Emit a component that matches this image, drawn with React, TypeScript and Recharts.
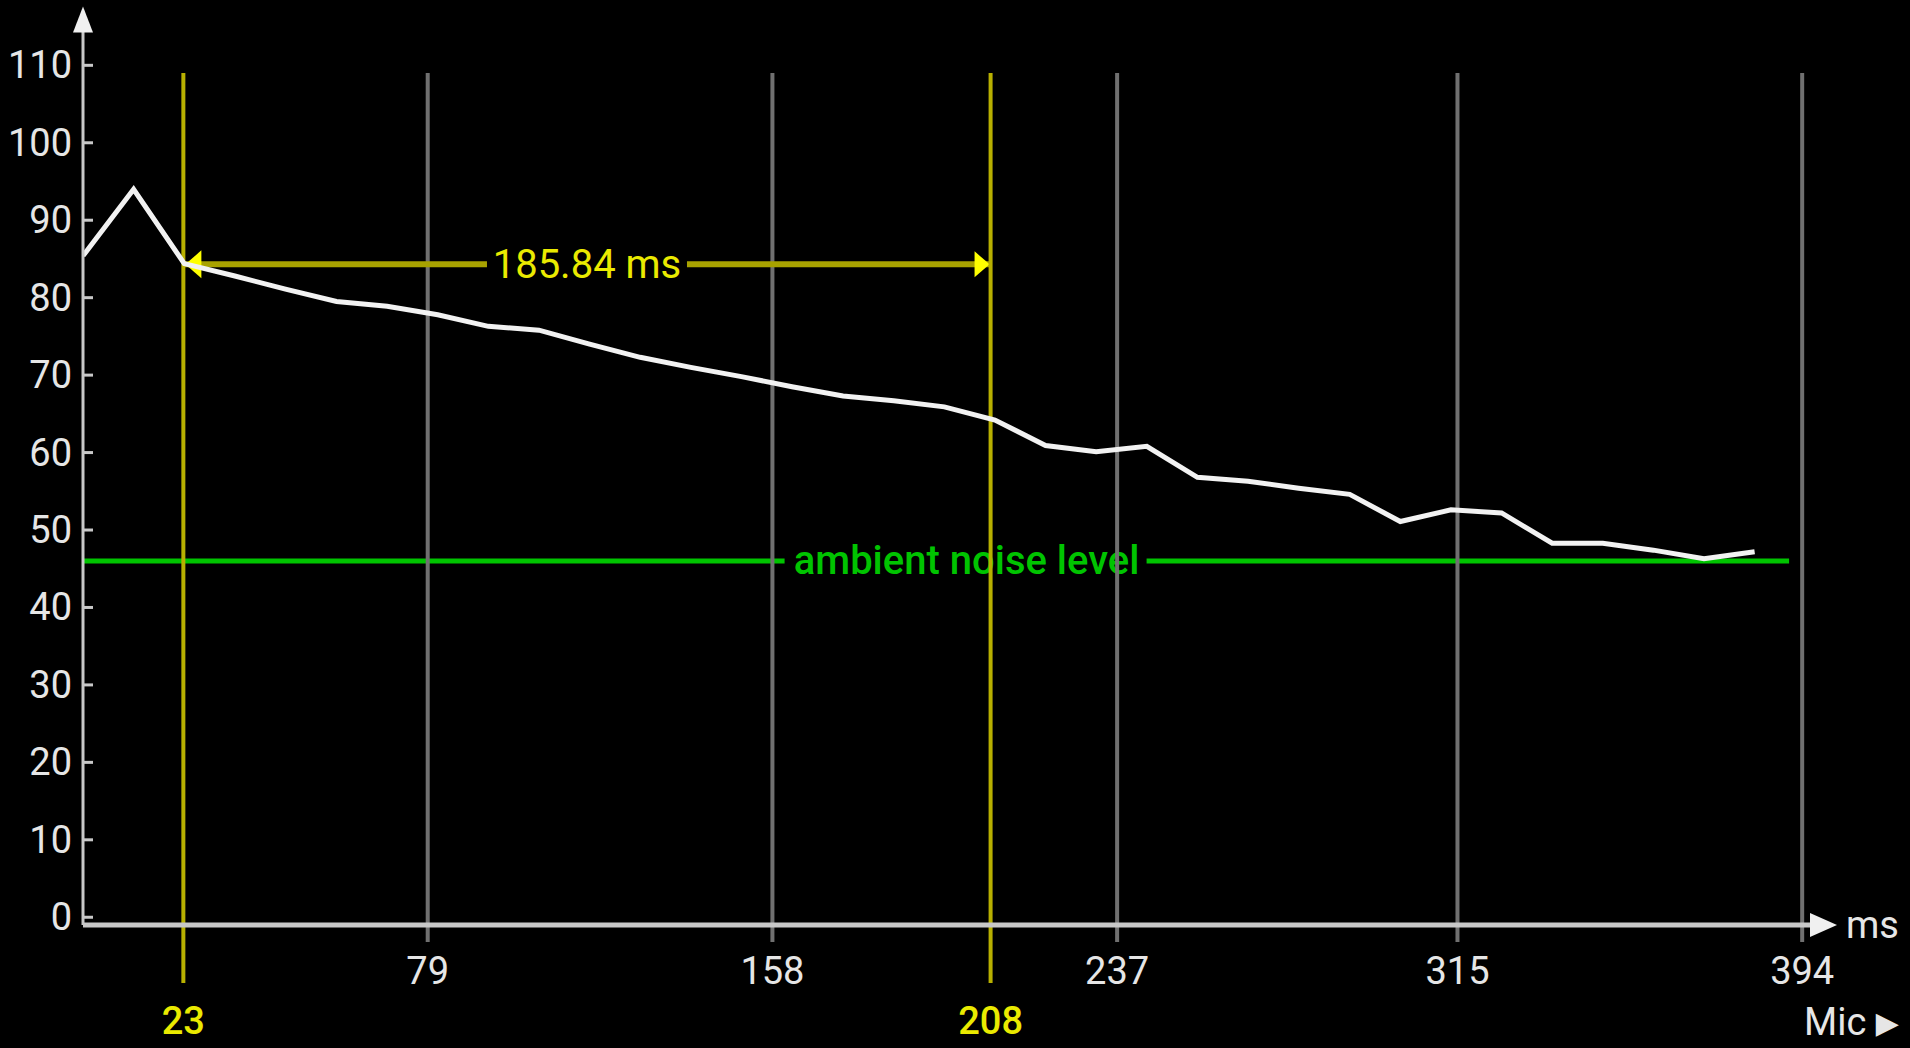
import React from 'react';
import { ComposedChart, Line, XAxis, YAxis, ReferenceLine } from 'recharts';

// ---- data ----
const times = [0, 11.6, 23.2, 34.8, 46.4, 58.1, 69.7, 81.3, 92.9, 104.5, 116.1, 127.7, 139.3, 150.9, 162.5, 174.2, 185.8, 197.4, 209.0, 220.6, 232.2, 243.8, 255.4, 267.0, 278.6, 290.3, 301.9, 313.5, 325.1, 336.7, 348.3, 359.9, 371.5, 383.1];
const levels = [85.4, 94.0, 84.4, 82.8, 81.1, 79.5, 78.9, 77.8, 76.3, 75.8, 74.0, 72.3, 71.0, 69.8, 68.5, 67.3, 66.7, 65.9, 64.2, 60.9, 60.1, 60.8, 56.8, 56.3, 55.4, 54.6, 51.1, 52.6, 52.2, 48.3, 48.3, 47.4, 46.3, 47.2];
const yTicks = [0, 10, 20, 30, 40, 50, 60, 70, 80, 90, 100, 110];
const xTicks = [79, 158, 237, 315, 394];
const cursorTimes = [23, 208];
const measureText = '185.84 ms';
const measureLevel = 84.3;
const noiseLevel = 46;
const noiseEnd = 391;
const noiseLabelAt = 202.5;
const noiseText = 'ambient noise level';
const xUnit = 'ms';
const channelText = 'Mic';

// span of vertical rules, in data units
const gridTop = 109;
const gridBottom = -3.2;
const cursorBottom = -8.5;

const data = times.map((t, i) => ({ t, v: levels[i] }));

const FONT = 'Roboto, "Noto Sans", sans-serif';
const FS = 38;
const FS_NOTE = 40;
const GREY = '#707070';
const AXIS = '#c8c8c8';
const YEL_LINE = '#b8b000';
const YEL_TEXT = '#eaea00';
const GREEN = '#00c400';

const YTick = (p: any) => {
  const { x, y, payload } = p;
  return (
    <g>
      <line x1={x} x2={x + 10} y1={y} y2={y} stroke={AXIS} strokeWidth={3} />
      <text x={x - 11} y={y} textAnchor="end" dominantBaseline="central" fill="#e6e6e6" fontSize={FS} fontFamily={FONT}>
        {payload.value}
      </text>
    </g>
  );
};

const XTick = (p: any) => {
  const { x, y, payload } = p;
  return (
    <text x={x} y={y + 46} textAnchor="middle" dominantBaseline="central" fill="#e6e6e6" fontSize={FS} fontFamily={FONT}>
      {payload.value}
    </text>
  );
};

const YArrow = (p: any) => {
  const vb = p.viewBox || {};
  const ax = vb.x + vb.width;
  const top = vb.y;
  return <polygon points={`${ax - 10},${top + 6} ${ax},${top - 20} ${ax + 10},${top + 6}`} fill="#f0f0f0" />;
};

const XArrow = (p: any) => {
  const vb = p.viewBox || {};
  const xr = vb.x + vb.width;
  const ay = vb.y;
  return (
    <g>
      <polygon points={`${xr - 14},${ay - 12} ${xr + 13},${ay} ${xr - 14},${ay + 12}`} fill="#f0f0f0" />
      <text x={xr + 22} y={ay} dominantBaseline="central" fill="#e6e6e6" fontSize={FS} fontFamily={FONT}>{xUnit}</text>
      <text x={xr - 20} y={ay + 97} dominantBaseline="central" fill="#e6e6e6" fontSize={FS} fontFamily={FONT}>
        {channelText} <tspan fontFamily='"DejaVu Sans"' fontSize={30}>▶</tspan>
      </text>
    </g>
  );
};

const GridShape = (p: any) => (
  <line x1={p.x1} y1={p.y1} x2={p.x2} y2={p.y2} stroke={GREY} strokeWidth={4} />
);

const CursorShape = (label: number) => (p: any) => {
  const yb = Math.max(p.y1, p.y2);
  return (
    <g>
      <line x1={p.x1} y1={p.y1} x2={p.x2} y2={p.y2} stroke={YEL_LINE} strokeWidth={4} />
      <text x={p.x1} y={yb + 38} textAnchor="middle" dominantBaseline="central" fill={YEL_TEXT} fontSize={FS} fontFamily={FONT} fontWeight={500}>
        {label}
      </text>
    </g>
  );
};

const MeasureShape = (p: any) => {
  const xa = Math.min(p.x1, p.x2);
  const xb = Math.max(p.x1, p.x2);
  const y = p.y1;
  const mid = (xa + xb) / 2;
  return (
    <g>
      <line x1={xa} y1={y} x2={xb} y2={y} stroke="#a8a200" strokeWidth={6} />
      <rect x={mid - 100} y={y - 25} width={200} height={50} fill="#000" />
      <text x={mid} y={y} textAnchor="middle" dominantBaseline="central" fill={YEL_TEXT} fontSize={FS_NOTE} fontFamily={FONT}>
        {measureText}
      </text>
      <polygon points={`${xa + 2},${y} ${xa + 18},${y - 14} ${xa + 18},${y + 14}`} fill="#ffff00" />
      <polygon points={`${xb - 1},${y} ${xb - 16},${y - 13} ${xb - 16},${y + 13}`} fill="#ffff00" />
    </g>
  );
};

const NoiseShape = (p: any) => {
  const xa = Math.min(p.x1, p.x2);
  const xb = Math.max(p.x1, p.x2);
  const y = p.y1;
  const cx = xa + (noiseLabelAt / noiseEnd) * (xb - xa);
  return (
    <g>
      <line x1={xa} y1={y} x2={xb} y2={y} stroke={GREEN} strokeWidth={5} />
      <rect x={cx - 182} y={y - 25} width={362} height={50} fill="#000" />
      <text x={cx} y={y} textAnchor="middle" dominantBaseline="central" fill={GREEN} fontSize={FS_NOTE} fontFamily={FONT} fontWeight={500}>
        {noiseText}
      </text>
    </g>
  );
};

export default function App() {
  return (
    <div style={{ position: 'absolute', left: 0, top: 0, width: 1910, height: 1048, background: '#000', overflow: 'hidden' }}>
      <ComposedChart
        width={1910}
        height={1048}
        data={data}
        margin={{ top: 26.6, right: 86, bottom: 0, left: 0 }}
      >
        <XAxis
          dataKey="t"
          type="number"
          domain={[0, 399]}
          ticks={xTicks}
          tick={<XTick />}
          tickLine={false}
          tickSize={0}
          tickMargin={0}
          height={123}
          axisLine={{ stroke: AXIS, strokeWidth: 5 }}
          allowDataOverflow
          label={<XArrow />}
        />
        <YAxis
          type="number"
          domain={[-1, 115]}
          ticks={yTicks}
          tick={<YTick />}
          tickLine={false}
          tickSize={0}
          tickMargin={0}
          width={83}
          axisLine={{ stroke: AXIS, strokeWidth: 3 }}
          allowDataOverflow
          label={<YArrow />}
        />
        <ReferenceLine
          segment={[{ x: 0, y: noiseLevel }, { x: noiseEnd, y: noiseLevel }]}
          ifOverflow="visible"
          shape={NoiseShape}
        />
        {xTicks.map((t) => (
          <ReferenceLine
            key={'g' + t}
            segment={[{ x: t, y: gridBottom }, { x: t, y: gridTop }]}
            ifOverflow="visible"
            shape={GridShape}
          />
        ))}
        <ReferenceLine
          segment={[{ x: cursorTimes[0], y: measureLevel }, { x: cursorTimes[1], y: measureLevel }]}
          ifOverflow="visible"
          shape={MeasureShape}
        />
        {cursorTimes.map((t) => (
          <ReferenceLine
            key={'c' + t}
            segment={[{ x: t, y: cursorBottom }, { x: t, y: gridTop }]}
            ifOverflow="visible"
            shape={CursorShape(t)}
          />
        ))}
        <Line
          dataKey="v"
          type="linear"
          stroke="#f2f2f2"
          strokeWidth={5}
          dot={false}
          isAnimationActive={false}
        />
      </ComposedChart>
    </div>
  );
}
